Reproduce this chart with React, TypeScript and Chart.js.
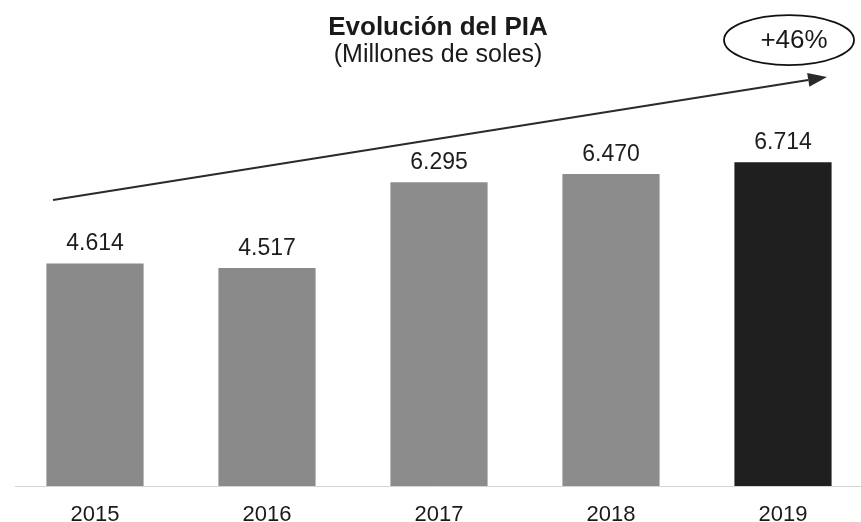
import React, { useEffect, useRef } from "react";
import { Chart, registerables } from "chart.js";

Chart.register(...registerables);

const years = ["2015", "2016", "2017", "2018", "2019"];
const pia = [4614, 4517, 6295, 6470, 6714];
const barColors = ["#8a8a8a", "#8a8a8a", "#8c8c8c", "#8c8c8c", "#1f1f1f"];
const titleText = "Evolución del PIA";
const subtitleText = "(Millones de soles)";
const growthText = "+46%";
const arrowFrom = { x: -0.244, y: 5930 };
const arrowTo = { x: 4.256, y: 8480 };
const badgeAt = { x: 4.035, y: 9245 };

const FONT = "'Liberation Sans', Arial, Helvetica, sans-serif";

function fmt(v: number): string {
  const th = Math.floor(v / 1000);
  const rest = String(v % 1000).padStart(3, "0");
  return th + "." + rest;
}

const overlayPlugin = {
  id: "overlay",
  afterDatasetsDraw(chart: any) {
    const ctx = chart.ctx;
    const xs = chart.scales.x;
    const ys = chart.scales.y;
    const meta = chart.getDatasetMeta(0);
    ctx.save();
    // value labels
    ctx.fillStyle = "#1e1e1e";
    ctx.font = `23px ${FONT}`;
    ctx.textAlign = "center";
    ctx.textBaseline = "alphabetic";
    meta.data.forEach((bar: any, i: number) => {
      ctx.fillText(fmt(pia[i]), bar.x, bar.y - 13);
    });
    // arrow
    const x1 = xs.getPixelForValue(arrowFrom.x);
    const y1 = ys.getPixelForValue(arrowFrom.y);
    const x2 = xs.getPixelForValue(arrowTo.x);
    const y2 = ys.getPixelForValue(arrowTo.y);
    const ang = Math.atan2(y2 - y1, x2 - x1);
    const headLen = 19;
    const headHalf = 7;
    const bx = x2 - headLen * Math.cos(ang);
    const by = y2 - headLen * Math.sin(ang);
    ctx.strokeStyle = "#2a2a2a";
    ctx.lineWidth = 2;
    ctx.beginPath();
    ctx.moveTo(x1, y1);
    ctx.lineTo(bx, by);
    ctx.stroke();
    ctx.fillStyle = "#2a2a2a";
    ctx.beginPath();
    ctx.moveTo(x2, y2);
    ctx.lineTo(bx + headHalf * Math.sin(ang), by - headHalf * Math.cos(ang));
    ctx.lineTo(bx - headHalf * Math.sin(ang), by + headHalf * Math.cos(ang));
    ctx.closePath();
    ctx.fill();
    // badge ellipse
    const cx = xs.getPixelForValue(badgeAt.x);
    const cy = ys.getPixelForValue(badgeAt.y);
    ctx.strokeStyle = "#111";
    ctx.lineWidth = 1.8;
    ctx.beginPath();
    ctx.ellipse(cx, cy, 65, 25, 0, 0, Math.PI * 2);
    ctx.stroke();
    ctx.fillStyle = "#1a1a1a";
    ctx.font = `26px ${FONT}`;
    ctx.textAlign = "center";
    ctx.textBaseline = "middle";
    ctx.fillText(growthText, cx + 5, cy + 1);
    ctx.restore();
  },
};

export default function App() {
  const ref = useRef<HTMLCanvasElement | null>(null);
  useEffect(() => {
    if (!ref.current) return;
    const chart = new Chart(ref.current, {
      type: "bar",
      data: {
        datasets: [
          {
            data: pia.map((v, i) => ({ x: i, y: v })),
            backgroundColor: barColors,
            borderWidth: 0,
            barPercentage: 0.565,
            categoryPercentage: 1,
          },
        ],
      },
      options: {
        animation: false,
        responsive: true,
        maintainAspectRatio: false,
        layout: { padding: { left: 15, right: 0, top: 0, bottom: 0 } },
        plugins: {
          legend: { display: false },
          tooltip: { enabled: false },
          title: {
            display: true,
            text: titleText,
            color: "#1a1a1a",
            font: { family: FONT, size: 26, weight: "bold", lineHeight: 1 },
            padding: { top: 15, bottom: 0 },
          },
          subtitle: {
            display: true,
            text: subtitleText,
            color: "#1a1a1a",
            font: { family: FONT, size: 25, weight: "normal", lineHeight: 1 },
            padding: { top: 2, bottom: 8 },
          },
        },
        scales: {
          x: {
            type: "linear",
            offset: false,
            min: -0.4651,
            max: 4.4535,
            afterFit: (scale: any) => {
              scale.height = 36;
            },
            grid: { display: false, drawTicks: false },
            border: { display: true, color: "#d4d4d4", dash: [3, 3], width: 1 },
            ticks: {
              stepSize: 1,
              includeBounds: false,
              autoSkip: false,
              maxRotation: 0,
              padding: 21,
              color: "#1a1a1a",
              font: { family: FONT, size: 22, lineHeight: 0.7 },
              callback: (v: any) => {
                const n = Number(v);
                return Number.isInteger(n) && years[n] !== undefined ? years[n] : "";
              },
            },
          },
          y: {
            display: false,
            min: 0,
            max: 8500,
          },
        },
      },
      plugins: [overlayPlugin],
    } as any);
    return () => chart.destroy();
  }, []);
  return (
    <div style={{ position: "absolute", left: 0, top: 0, width: 861, height: 522, background: "#fff" }}>
      <canvas ref={ref} />
    </div>
  );
}
